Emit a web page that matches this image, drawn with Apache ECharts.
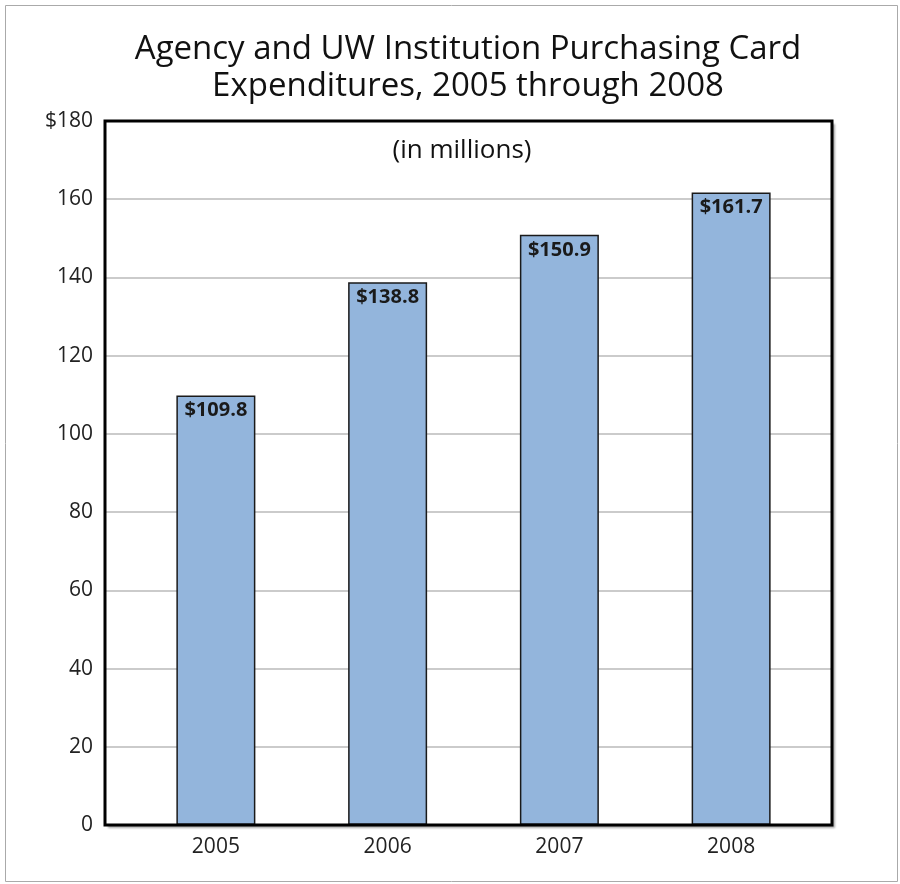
<!DOCTYPE html>
<html>
<head>
<meta charset="utf-8">
<script src="https://cdn.jsdelivr.net/npm/echarts@6/dist/echarts.min.js"></script>
<style>
  html, body { margin: 0; padding: 0; background: #fff; }
  #chart { width: 900px; height: 884px; }
</style>
</head>
<body>
<div id="chart"></div>
<script>
// years and purchasing card spend, in millions of dollars
const years = ['2005', '2006', '2007', '2008'];
const spend = [109.8, 138.8, 150.9, 161.7];
const yTicks = [0, 20, 40, 60, 80, 100, 120, 140, 160, 180];

const font = '"Open Sans", "Noto Sans", sans-serif';
const chart = echarts.init(document.getElementById('chart'));

// plot box, shared by the three grids
const box = { left: 105, right: 68, top: 121, bottom: 59 };

const option = {
  animation: false,
  backgroundColor: '#fff',
  title: [{
    text: 'Agency and UW Institution Purchasing Card\nExpenditures, 2005 through 2008',
    left: 463,
    textAlign: 'center',
    top: 26,
    textStyle: { fontFamily: font, fontSize: 33, fontWeight: 500, color: '#111', lineHeight: 37 }
  }, {
    text: '(in millions)',
    left: 457,
    textAlign: 'center',
    top: 133,
    textStyle: { fontFamily: font, fontSize: 26, fontWeight: 'normal', color: '#111' }
  }],
  graphic: [{
    // thin frame round the whole picture
    type: 'rect',
    shape: { x: 5.5, y: 5.5, width: 892, height: 876 },
    style: { fill: 'none', stroke: '#aaa', lineWidth: 1 },
    silent: true
  }],
  grid: [
    // white plot area with its drop shadow, value axis
    Object.assign({}, box, {
      show: true,
      backgroundColor: '#fff',
      borderWidth: 0,
      shadowColor: 'rgba(0,0,0,0.35)',
      shadowBlur: 2,
      shadowOffsetX: 3,
      shadowOffsetY: 3
    }),
    // bars sit a little inset from the frame
    { left: 130, right: 83, top: 121, bottom: 59 },
    // black frame drawn on top of the grid lines
    Object.assign({}, box, {
      show: true,
      z: 10,
      backgroundColor: 'transparent',
      borderColor: '#000',
      borderWidth: 3
    })
  ],
  xAxis: [{
    gridIndex: 0,
    type: 'category',
    data: years,
    show: false
  }, {
    gridIndex: 1,
    type: 'category',
    data: years,
    axisLine: { show: false },
    axisTick: { show: false },
    axisLabel: { fontFamily: font, fontSize: 21, color: '#222', margin: 12 }
  }, {
    gridIndex: 2,
    type: 'category',
    data: years,
    show: false
  }],
  yAxis: [{
    gridIndex: 0,
    type: 'value',
    min: yTicks[0],
    max: yTicks[yTicks.length - 1],
    interval: 20,
    axisLine: { show: false },
    axisTick: { show: false },
    axisLabel: {
      fontFamily: font, fontSize: 21, color: '#222', margin: 12,
      formatter: v => (v === 180 ? '$' + v : String(v))
    },
    splitLine: { showMinLine: false, showMaxLine: false, lineStyle: { color: '#cbcbcb', width: 2 } }
  }, {
    gridIndex: 1,
    type: 'value',
    min: yTicks[0],
    max: yTicks[yTicks.length - 1],
    show: false
  }, {
    gridIndex: 2,
    type: 'value',
    min: yTicks[0],
    max: yTicks[yTicks.length - 1],
    show: false
  }],
  series: [{
    type: 'bar',
    xAxisIndex: 1,
    yAxisIndex: 1,
    data: spend,
    barWidth: 79,
    itemStyle: { color: '#93b5dc', borderColor: '#1a1a1a', borderWidth: 1.5 },
    label: {
      show: true,
      position: 'insideTop',
      distance: 5,
      fontFamily: font,
      fontSize: 20,
      fontWeight: 'bold',
      color: '#1a1a1a',
      formatter: p => '$' + p.value.toFixed(1)
    }
  }]
};

chart.setOption(option);
</script>
</body>
</html>
